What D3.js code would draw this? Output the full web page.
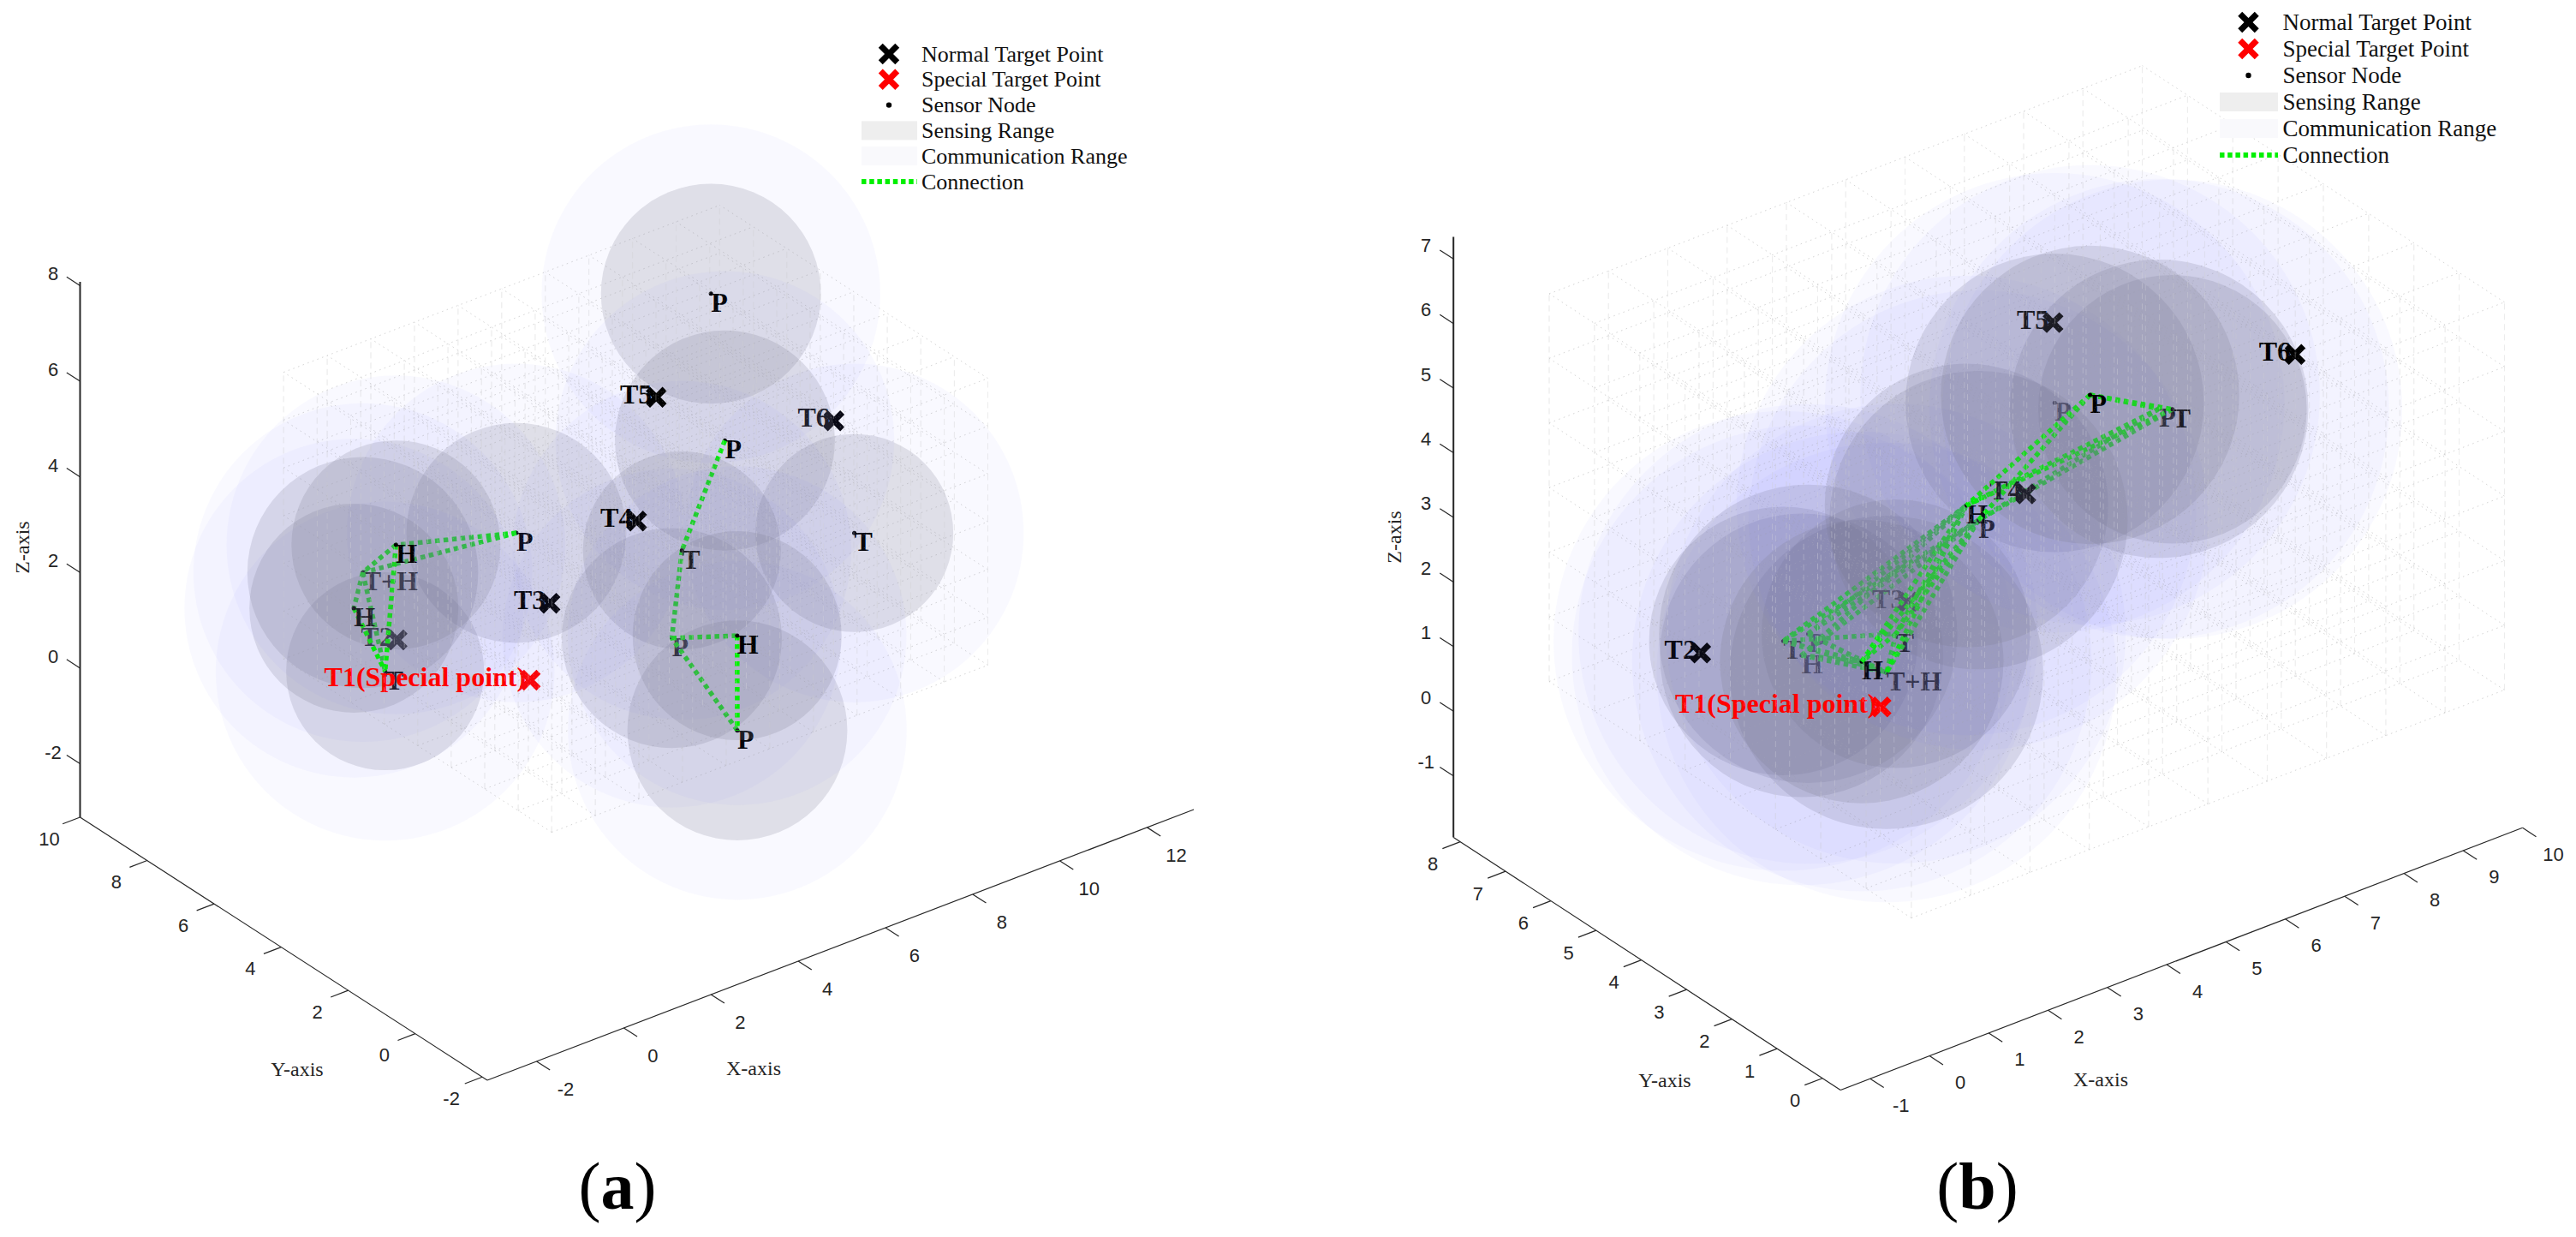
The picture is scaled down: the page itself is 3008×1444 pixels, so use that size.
<!DOCTYPE html>
<html>
<head>
<meta charset="utf-8">
<title>Sensor deployment</title>
<script src="https://cdn.jsdelivr.net/npm/d3@7"></script>
<style>
  html, body { margin: 0; background: #fff; }
  svg { display: block; }
  text { font-family: "Liberation Serif", "Times New Roman", serif; }
</style>
</head>
<body>
<div id="chart"></div>
<script>
// target points, same order in both panels: T1..T6
const targetNames = ["T1(Special point)", "T2", "T3", "T4", "T5", "T6"];

const targetXA = [3.08, 1.58, 3.48, 4.96, 5.87, 8.97];
const targetYA = [4.65, 6.67, 4.58, 3.92, 4.52, 3.25];
const targetZA = [0, 0.45, 1.5, 3, 5, 4];

const targetXB = [2.32, 1.02, 3.53, 4.80, 5.77, 8.18];
const targetYB = [3.71, 5.99, 4.69, 3.76, 4.43, 2.24];
const targetZB = [0.75, 1, 1.5, 3.15, 5.15, 4.81];

// sensor nodes
const nodeTypeA = ["P", "P", "T", "T", "H", "P", "P", "P", "H", "T+H", "H", "T"];
const nodeXA = [7.90, 6.96, 8.36, 5.49, 5.45, 4.99, 4.94, 4.03, 2.03, 1.47, 1.08, 1.19];
const nodeYA = [5.53, 3.89, 1.85, 3.26, 1.56, 2.91, 0.89, 6.30, 7.29, 7.55, 7.31, 6.52];
const nodeZA = [6, 4, 2.5, 2.5, 1.5, 1, 0, 2, 2, 1.5, 1, 0];
const edgesA = [[1, 3], [3, 5], [5, 4], [4, 6], [6, 5], [7, 8], [7, 9], [8, 9], [8, 11], [9, 10], [9, 11], [10, 11]];

const nodeTypeB = ["P", "P", "P", "T", "H", "P", "T", "H", "T+H", "T", "H", "P"];
const nodeXB = [5.86, 6.50, 6.59, 6.70, 4.15, 4.27, 3.09, 2.56, 2.94, 2.23, 2.63, 2.84];
const nodeYB = [3.73, 5.35, 3.16, 3.01, 4.22, 4.11, 4.39, 4.45, 4.40, 5.75, 5.87, 6.00];
const nodeZB = [4.32, 3.23, 4.11, 4.13, 2.99, 2.77, 1.30, 1.03, 0.75, 0.87, 0.45, 0.65];
const edgesB = [[0, 2], [0, 3], [0, 4], [0, 5], [2, 4], [2, 5], [3, 4], [3, 5], [4, 9], [5, 9], [4, 8], [5, 8],
  [4, 6], [5, 6], [9, 6], [9, 7], [9, 8], [6, 8], [7, 8], [6, 7], [11, 7], [11, 8], [10, 7], [10, 8],
  [7, 4], [7, 5], [10, 4], [10, 5], [11, 4], [11, 5]];

// ranges, in axis units
const sensingTypes = ["P", "T", "H", "T+H"];
const sensingRanges = [2.0, 1.8, 1.9, 2.1];
const commRange = 3.08;

// tick labels
const xTicksA = [-2, 0, 2, 4, 6, 8, 10, 12];
const yTicksA = [-2, 0, 2, 4, 6, 8, 10];
const zTicksA = [-2, 0, 2, 4, 6, 8];
const xTicksB = [-1, 0, 1, 2, 3, 4, 5, 6, 7, 8, 9, 10];
const yTicksB = [0, 1, 2, 3, 4, 5, 6, 7, 8];
const zTicksB = [-1, 0, 1, 2, 3, 4, 5, 6, 7];

// dotted box behind the spheres
const gridX = d3.range(0, 11);
const gridY = d3.range(0, 9);
const gridZ = d3.range(0, 7);

const legendLabels = ["Normal Target Point", "Special Target Point", "Sensor Node", "Sensing Range", "Communication Range", "Connection"];

const GREEN = "#00f000";
const RED = "#ff0000";
const view = [-0.527, -0.688, 0.498]; // points at the viewer

const svg = d3.select("#chart").append("svg")
  .attr("width", 3008)
  .attr("height", 1444);

const markX = d3.symbol().type(d3.symbolX).size(250);

function drawPanel(cfg) {
  const g = svg.append("g");

  const fx = d3.scaleLinear().domain(cfg.xDomain).range([0, 1]);
  const fy = d3.scaleLinear().domain(cfg.yDomain).range([0, 1]);
  const sz = d3.scaleLinear().domain(cfg.zDomain).range([cfg.yAxisEnd[1], cfg.zTop]);
  const radius = d3.scaleLinear().domain([0, 1]).range([0, cfg.unit]);

  function project(x, y, z) {
    const a = fx(x), b = fy(y);
    return [
      cfg.corner[0] + a * (cfg.xAxisEnd[0] - cfg.corner[0]) + b * (cfg.yAxisEnd[0] - cfg.corner[0]),
      cfg.corner[1] + a * (cfg.xAxisEnd[1] - cfg.corner[1]) + b * (cfg.yAxisEnd[1] - cfg.corner[1]) + sz(z) - sz(cfg.zDomain[0])
    ];
  }
  const depth = (x, y, z) => view[0] * x + view[1] * y + view[2] * z;

  // grid paths
  const flatLines = d3.path();
  const upLines = d3.path();
  function seg(path, a, b) {
    path.moveTo(a[0], a[1]);
    path.lineTo(b[0], b[1]);
  }
  const x0 = gridX[0], x1 = gridX[gridX.length - 1];
  const y0 = gridY[0], y1 = gridY[gridY.length - 1];
  const z0 = gridZ[0], z1 = gridZ[gridZ.length - 1];
  gridZ.forEach(z => {
    gridX.forEach(x => seg(flatLines, project(x, y0, z), project(x, y1, z)));
    gridY.forEach(y => seg(flatLines, project(x0, y, z), project(x1, y, z)));
  });
  gridX.forEach(x => gridY.forEach(y => seg(upLines, project(x, y, z0), project(x, y, z1))));

  g.append("path").attr("d", flatLines.toString())
    .attr("fill", "none").attr("stroke", "#a0a0a0").attr("stroke-width", 1)
    .attr("stroke-dasharray", "1.5 4.5").attr("opacity", 0.5);
  g.append("path").attr("d", upLines.toString())
    .attr("fill", "none").attr("stroke", "#a8a8a8").attr("stroke-width", 1)
    .attr("stroke-dasharray", "7 5").attr("opacity", 0.3);

  // everything inside the box is painted back to front
  const items = [];
  cfg.nodeType.forEach((type, i) => {
    const d = depth(cfg.nodeX[i], cfg.nodeY[i], cfg.nodeZ[i]);
    const p = project(cfg.nodeX[i], cfg.nodeY[i], cfg.nodeZ[i]);
    items.push({ depth: d, kind: "comm", p: p });
    items.push({ depth: d, kind: "sense", p: p, r: sensingRanges[sensingTypes.indexOf(type)] });
    items.push({ depth: d + 0.01, kind: "node", p: p, type: type });
  });
  cfg.edges.forEach(e => {
    const a = e[0], b = e[1];
    const da = depth(cfg.nodeX[a], cfg.nodeY[a], cfg.nodeZ[a]);
    const db = depth(cfg.nodeX[b], cfg.nodeY[b], cfg.nodeZ[b]);
    items.push({
      depth: (da + db) / 2 + 0.01, kind: "edge",
      p: project(cfg.nodeX[a], cfg.nodeY[a], cfg.nodeZ[a]),
      q: project(cfg.nodeX[b], cfg.nodeY[b], cfg.nodeZ[b])
    });
  });
  targetNames.forEach((name, i) => {
    items.push({
      depth: depth(cfg.targetX[i], cfg.targetY[i], cfg.targetZ[i]), kind: "target", name: name, i: i,
      p: project(cfg.targetX[i], cfg.targetY[i], cfg.targetZ[i])
    });
  });
  items.sort((a, b) => a.depth - b.depth);

  items.forEach(d => {
    if (d.kind === "comm") {
      g.append("circle").attr("cx", d.p[0]).attr("cy", d.p[1]).attr("r", radius(commRange))
        .attr("fill", "rgb(120,120,255)").attr("fill-opacity", 0.045);
    } else if (d.kind === "sense") {
      g.append("circle").attr("cx", d.p[0]).attr("cy", d.p[1]).attr("r", radius(d.r))
        .attr("fill", "#77778a").attr("fill-opacity", 0.2);
    } else if (d.kind === "edge") {
      g.append("line").attr("x1", d.p[0]).attr("y1", d.p[1]).attr("x2", d.q[0]).attr("y2", d.q[1])
        .attr("stroke", GREEN).attr("stroke-width", 5.5).attr("stroke-dasharray", "5.5 4.5");
    } else if (d.kind === "node") {
      g.append("circle").attr("cx", d.p[0]).attr("cy", d.p[1]).attr("r", 2.5).attr("fill", "#000");
      g.append("text").attr("x", d.p[0]).attr("y", d.p[1] + 21)
        .attr("font-size", 32).attr("font-weight", "bold").attr("fill", "#000").text(d.type);
    } else {
      const col = d.i === 0 ? RED : "#000";
      g.append("path").attr("d", markX()).attr("transform", `translate(${d.p[0]},${d.p[1]})`)
        .attr("fill", "none").attr("stroke", col).attr("stroke-width", 7);
      g.append("text").attr("x", d.p[0] - 5).attr("y", d.p[1] + 7).attr("text-anchor", "end")
        .attr("font-size", 32).attr("font-weight", "bold").attr("fill", col).text(d.name);
    }
  });

  // spheres wash the grid out to lighter dashes
  g.append("path").attr("d", flatLines.toString())
    .attr("fill", "none").attr("stroke", "#fff").attr("stroke-width", 1)
    .attr("stroke-dasharray", "1.5 4.5").attr("opacity", 0.15);
  g.append("path").attr("d", upLines.toString())
    .attr("fill", "none").attr("stroke", "#fff").attr("stroke-width", 1)
    .attr("stroke-dasharray", "7 5").attr("opacity", 0.28);

  // axes
  const axisColor = "#262626";
  const zBase = [cfg.yAxisEnd[0], cfg.yAxisEnd[1]];
  g.append("line").attr("x1", zBase[0]).attr("y1", zBase[1]).attr("x2", zBase[0]).attr("y2", cfg.zTop)
    .attr("stroke", axisColor).attr("stroke-width", 2);
  g.append("line").attr("x1", cfg.corner[0]).attr("y1", cfg.corner[1]).attr("x2", zBase[0]).attr("y2", zBase[1])
    .attr("stroke", axisColor).attr("stroke-width", 1.2);
  g.append("line").attr("x1", cfg.corner[0]).attr("y1", cfg.corner[1]).attr("x2", cfg.xAxisEnd[0]).attr("y2", cfg.xAxisEnd[1])
    .attr("stroke", axisColor).attr("stroke-width", 1.2);

  function tick(p, q, off, label) {
    g.append("line").attr("x1", p[0]).attr("y1", p[1]).attr("x2", q[0]).attr("y2", q[1])
      .attr("stroke", axisColor).attr("stroke-width", 1.2);
    g.append("text").attr("x", p[0] + off[0]).attr("y", p[1] + off[1])
      .attr("text-anchor", "middle").attr("dominant-baseline", "central")
      .style("font-family", "'Liberation Sans', Arial, sans-serif")
      .attr("font-size", 22).attr("fill", axisColor).text(label);
  }
  const xAt = cfg.yDomain[0], zAt = cfg.zDomain[0];
  cfg.xTicks.forEach(v => tick(project(v, xAt, zAt), project(v, xAt - cfg.tickLen, zAt), cfg.xLabelOff, v));
  cfg.yTicks.forEach(v => {
    const p = project(cfg.xDomain[0], v, zAt);
    tick(p, project(cfg.xDomain[0] - cfg.tickLen, v, zAt), cfg.yLabelOff, v);
  });
  cfg.zTicks.forEach(v => {
    const p = project(cfg.xDomain[0], cfg.yDomain[1], v);
    tick(p, project(cfg.xDomain[0], cfg.yDomain[1] + cfg.tickLen, v), cfg.zLabelOff, v);
  });

  g.append("text").attr("x", cfg.xTitle[0]).attr("y", cfg.xTitle[1])
    .attr("text-anchor", "middle").attr("dominant-baseline", "central")
    .attr("font-size", 24).attr("fill", axisColor).text("X-axis");
  g.append("text").attr("x", cfg.yTitle[0]).attr("y", cfg.yTitle[1])
    .attr("text-anchor", "middle").attr("dominant-baseline", "central")
    .attr("font-size", 24).attr("fill", axisColor).text("Y-axis");
  g.append("text").attr("transform", `translate(${cfg.zTitle[0]},${cfg.zTitle[1]}) rotate(-90)`)
    .attr("text-anchor", "middle").attr("dominant-baseline", "central")
    .attr("font-size", 24).attr("fill", axisColor).text("Z-axis");

  // caption
  const cap = g.append("text").attr("x", cfg.caption[0]).attr("y", cfg.caption[1])
    .attr("text-anchor", "middle").attr("font-size", 78).attr("fill", "#000");
  cap.append("tspan").text("(");
  cap.append("tspan").attr("font-weight", "bold").text(cfg.captionLetter);
  cap.append("tspan").text(")");

  drawLegend(g, cfg.legend);
}

function drawLegend(g, lg) {
  legendLabels.forEach((label, i) => {
    const y = lg.y + i * lg.step;
    g.append("text").attr("x", lg.textX).attr("y", y)
      .attr("dominant-baseline", "central").attr("font-size", lg.fontSize).attr("fill", "#111").text(label);
    if (i < 2) {
      g.append("path").attr("d", markX()).attr("transform", `translate(${lg.markX},${y})`)
        .attr("fill", "none").attr("stroke", i === 0 ? "#000" : RED).attr("stroke-width", 7);
    } else if (i === 2) {
      g.append("circle").attr("cx", lg.markX).attr("cy", y).attr("r", 3.2).attr("fill", "#000");
    } else if (i < 5) {
      g.append("rect").attr("x", lg.swatch[0]).attr("y", y - 11)
        .attr("width", lg.swatch[1] - lg.swatch[0]).attr("height", 22)
        .attr("fill", i === 3 ? "#eeeeee" : "#f9f9fc");
    } else {
      g.append("line").attr("x1", lg.swatch[0]).attr("x2", lg.swatch[1]).attr("y1", y).attr("y2", y)
        .attr("stroke", "#00f000").attr("stroke-width", 6).attr("stroke-dasharray", "5.5 3.7");
    }
  });
}

drawPanel({
  xDomain: [-3.13, 13.07], yDomain: [-2.15, 10], zDomain: [-3.12, 8.08],
  corner: [569, 1261], xAxisEnd: [1394, 945], yAxisEnd: [93.5, 954], zTop: 329,
  unit: 64.2, tickLen: 0.4,
  xTicks: xTicksA, yTicks: yTicksA, zTicks: zTicksA,
  xLabelOff: [34, 33], yLabelOff: [-36, 25], zLabelOff: [-31.5, -13.5],
  xTitle: [880, 1247], yTitle: [347, 1248], zTitle: [26, 639],
  nodeType: nodeTypeA, nodeX: nodeXA, nodeY: nodeYA, nodeZ: nodeZA, edges: edgesA,
  targetX: targetXA, targetY: targetYA, targetZ: targetZA,
  caption: [721, 1411], captionLetter: "a",
  legend: { markX: 1038, textX: 1076, y: 63, step: 29.8, fontSize: 26, swatch: [1006, 1071] }
});

drawPanel({
  xDomain: [-1.5, 10], yDomain: [-0.4, 8.15], zDomain: [-1.95, 7.34],
  corner: [2149.2, 1272.5], xAxisEnd: [2945.6, 966.3], yAxisEnd: [1697.2, 977.4], zTop: 276.6,
  unit: 87.1, tickLen: 0.3,
  xTicks: xTicksB, yTicks: yTicksB, zTicks: zTicksB,
  xLabelOff: [36, 31], yLabelOff: [-32, 26], zLabelOff: [-32, -16],
  xTitle: [2453, 1260], yTitle: [1944, 1261], zTitle: [1628, 627],
  nodeType: nodeTypeB, nodeX: nodeXB, nodeY: nodeYB, nodeZ: nodeZB, edges: edgesB,
  targetX: targetXB, targetY: targetYB, targetZ: targetZB,
  caption: [2309, 1411], captionLetter: "b",
  legend: { markX: 2625.5, textX: 2665.5, y: 26, step: 31, fontSize: 27, swatch: [2592, 2660] }
});
</script>
</body>
</html>
